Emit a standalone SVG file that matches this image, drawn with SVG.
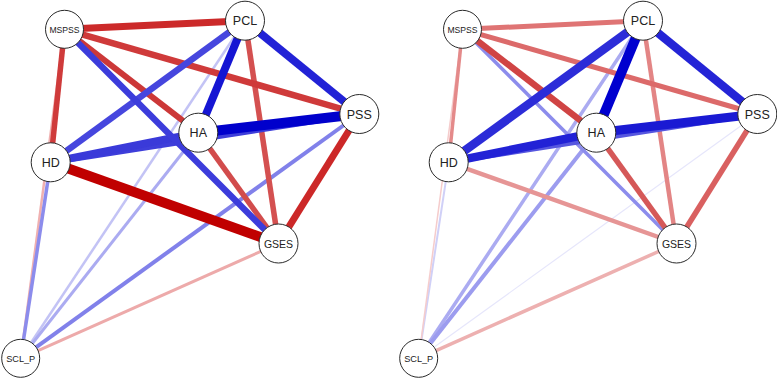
<svg xmlns="http://www.w3.org/2000/svg" width="777" height="379" viewBox="0 0 777 379">
<style>
.node circle{fill:#fff;stroke:#2a2a2a;stroke-width:1}
.node text{font-family:"Liberation Sans",Arial,sans-serif;fill:#222;text-anchor:middle;dominant-baseline:central}
.t12{font-size:12.5px}
.t11{font-size:10.5px}
.t9{font-size:9.2px}
.t8{font-size:8.6px}
.edges line{stroke-linecap:butt}
</style>
<rect width="777" height="379" fill="#fff"/>
<g id="edges-left" class="edges">
<line x1="20.7" y1="358.3" x2="245" y2="20.7" stroke="#C3C3F5" stroke-width="2.5"/>
<line x1="20.7" y1="358.3" x2="64.5" y2="29.3" stroke="#F0B0B0" stroke-width="2.5"/>
<line x1="20.7" y1="358.3" x2="198.3" y2="132.7" stroke="#ABABF1" stroke-width="3"/>
<line x1="20.7" y1="358.3" x2="278.5" y2="243.5" stroke="#EDAAAA" stroke-width="3"/>
<line x1="20.7" y1="358.3" x2="50.7" y2="162.3" stroke="#8C8CEC" stroke-width="3.5"/>
<line x1="20.7" y1="358.3" x2="359.3" y2="114" stroke="#8181EA" stroke-width="4"/>
<line x1="245" y1="20.7" x2="278.5" y2="243.5" stroke="#D45050" stroke-width="5.5"/>
<line x1="198.3" y1="132.7" x2="278.5" y2="243.5" stroke="#D24C4C" stroke-width="5.5"/>
<line x1="64.5" y1="29.3" x2="50.7" y2="162.3" stroke="#CF3B3B" stroke-width="5.5"/>
<line x1="64.5" y1="29.3" x2="198.3" y2="132.7" stroke="#CC3838" stroke-width="6"/>
<line x1="64.5" y1="29.3" x2="359.3" y2="114" stroke="#CF3A3A" stroke-width="6.5"/>
<line x1="245" y1="20.7" x2="50.7" y2="162.3" stroke="#4646DE" stroke-width="6.5"/>
<line x1="50.7" y1="162.3" x2="359.3" y2="114" stroke="#3E3EDA" stroke-width="6"/>
<line x1="50.7" y1="162.3" x2="198.3" y2="132.7" stroke="#3A3AD9" stroke-width="7.5"/>
<line x1="64.5" y1="29.3" x2="278.5" y2="243.5" stroke="#3C3CDB" stroke-width="6.5"/>
<line x1="64.5" y1="29.3" x2="245" y2="20.7" stroke="#CC2A2A" stroke-width="7"/>
<line x1="359.3" y1="114" x2="278.5" y2="243.5" stroke="#CC2828" stroke-width="7"/>
<line x1="245" y1="20.7" x2="359.3" y2="114" stroke="#2222D6" stroke-width="8"/>
<line x1="245" y1="20.7" x2="198.3" y2="132.7" stroke="#1515D3" stroke-width="8"/>
<line x1="50.7" y1="162.3" x2="278.5" y2="243.5" stroke="#C00000" stroke-width="10"/>
<line x1="198.3" y1="132.7" x2="359.3" y2="114" stroke="#0000CC" stroke-width="10"/>
</g>
<g id="edges-right" class="edges">
<line x1="418.7" y1="358.3" x2="757.3" y2="114" stroke="#E6E6FB" stroke-width="1.2"/>
<line x1="418.7" y1="358.3" x2="448.7" y2="162.3" stroke="#D0D0F7" stroke-width="2"/>
<line x1="418.7" y1="358.3" x2="462.5" y2="29.3" stroke="#F5CCCC" stroke-width="1.5"/>
<line x1="418.7" y1="358.3" x2="676.5" y2="243.5" stroke="#EDB0B0" stroke-width="3.5"/>
<line x1="418.7" y1="358.3" x2="643" y2="20.7" stroke="#ABABF1" stroke-width="3.5"/>
<line x1="418.7" y1="358.3" x2="596.3" y2="132.7" stroke="#9C9CEF" stroke-width="4"/>
<line x1="462.5" y1="29.3" x2="676.5" y2="243.5" stroke="#8C8CEC" stroke-width="3.5"/>
<line x1="462.5" y1="29.3" x2="448.7" y2="162.3" stroke="#E48A8A" stroke-width="3.5"/>
<line x1="448.7" y1="162.3" x2="676.5" y2="243.5" stroke="#E69595" stroke-width="4.5"/>
<line x1="643" y1="20.7" x2="676.5" y2="243.5" stroke="#E38585" stroke-width="4.5"/>
<line x1="462.5" y1="29.3" x2="643" y2="20.7" stroke="#DF7474" stroke-width="5"/>
<line x1="462.5" y1="29.3" x2="757.3" y2="114" stroke="#DC6A6A" stroke-width="5"/>
<line x1="757.3" y1="114" x2="676.5" y2="243.5" stroke="#D96060" stroke-width="5.5"/>
<line x1="596.3" y1="132.7" x2="676.5" y2="243.5" stroke="#D55858" stroke-width="5.5"/>
<line x1="462.5" y1="29.3" x2="596.3" y2="132.7" stroke="#D04444" stroke-width="6.5"/>
<line x1="448.7" y1="162.3" x2="757.3" y2="114" stroke="#5656DF" stroke-width="5"/>
<line x1="448.7" y1="162.3" x2="596.3" y2="132.7" stroke="#2222D6" stroke-width="8.5"/>
<line x1="643" y1="20.7" x2="448.7" y2="162.3" stroke="#2C2CD8" stroke-width="8.5"/>
<line x1="643" y1="20.7" x2="757.3" y2="114" stroke="#2424D6" stroke-width="8.5"/>
<line x1="596.3" y1="132.7" x2="757.3" y2="114" stroke="#1A1AD3" stroke-width="9"/>
<line x1="643" y1="20.7" x2="596.3" y2="132.7" stroke="#0000CF" stroke-width="10"/>
</g>
<g id="L-MSPSS" class="node"><circle cx="64.5" cy="29.3" r="19"/><text x="64.5" y="29.8" class="t8">MSPSS</text></g>
<g id="L-PCL" class="node"><circle cx="245" cy="20.7" r="19.5"/><text x="245" y="21.2" class="t12">PCL</text></g>
<g id="L-PSS" class="node"><circle cx="359.3" cy="114" r="19.5"/><text x="359.3" y="114.5" class="t12">PSS</text></g>
<g id="L-HA" class="node"><circle cx="198.3" cy="132.7" r="19.5"/><text x="198.3" y="133.2" class="t12">HA</text></g>
<g id="L-HD" class="node"><circle cx="50.7" cy="162.3" r="19.5"/><text x="50.7" y="162.8" class="t12">HD</text></g>
<g id="L-GSES" class="node"><circle cx="278.5" cy="243.5" r="19.5"/><text x="278.5" y="244" class="t11">GSES</text></g>
<g id="L-SCL_P" class="node"><circle cx="20.7" cy="358.3" r="19"/><text x="20.7" y="358.8" class="t9">SCL_P</text></g>
<g id="R-MSPSS" class="node"><circle cx="462.5" cy="29.3" r="19"/><text x="462.5" y="29.8" class="t8">MSPSS</text></g>
<g id="R-PCL" class="node"><circle cx="643" cy="20.7" r="19.5"/><text x="643" y="21.2" class="t12">PCL</text></g>
<g id="R-PSS" class="node"><circle cx="757.3" cy="114" r="19.5"/><text x="757.3" y="114.5" class="t12">PSS</text></g>
<g id="R-HA" class="node"><circle cx="596.3" cy="132.7" r="19.5"/><text x="596.3" y="133.2" class="t12">HA</text></g>
<g id="R-HD" class="node"><circle cx="448.7" cy="162.3" r="19.5"/><text x="448.7" y="162.8" class="t12">HD</text></g>
<g id="R-GSES" class="node"><circle cx="676.5" cy="243.5" r="19.5"/><text x="676.5" y="244" class="t11">GSES</text></g>
<g id="R-SCL_P" class="node"><circle cx="418.7" cy="358.3" r="19"/><text x="418.7" y="358.8" class="t9">SCL_P</text></g>
</svg>
